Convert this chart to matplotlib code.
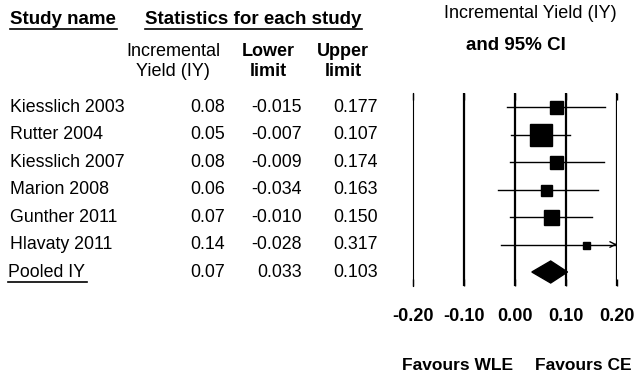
import numpy as np
import matplotlib.pyplot as plt
from matplotlib.patches import Polygon
from matplotlib.lines import Line2D
from matplotlib.transforms import blended_transform_factory

plt.rcParams['font.family'] = ['Liberation Sans', 'DejaVu Sans']

# data
studies = ['Kiesslich 2003', 'Rutter 2004', 'Kiesslich 2007', 'Marion 2008',
           'Gunther 2011', 'Hlavaty 2011']
iy = [0.08, 0.05, 0.08, 0.06, 0.07, 0.14]
lower = [-0.015, -0.007, -0.009, -0.034, -0.010, -0.028]
upper = [0.177, 0.107, 0.174, 0.163, 0.150, 0.317]
weights = [13, 22, 13, 11, 15, 7]  # box side, relative study weight
pooled_name = 'Pooled IY'
pooled_iy = 0.07
pooled_lower = 0.033
pooled_upper = 0.103
ticks = [-0.20, -0.10, 0.00, 0.10, 0.20]
ref_lines = [-0.10, 0.00, 0.10, 0.20]

W, H = 640, 377
fs = 12.8  # text looks a bit stretched in the original
fig = plt.figure(figsize=(W / 100, H / 100), dpi=100)

# forest panel: x -0.2..0.2 spans pixels 413..617, rows 107px + 27.5px steps
ax = fig.add_axes([413 / W, 1 - 285.75 / H, 204 / W, 192.5 / H])
ax.set_xlim(-0.2, 0.2)
ax.set_ylim(6.5, -0.5)
for s in ['top', 'right', 'bottom']:
    ax.spines[s].set_visible(False)
ax.spines['left'].set_linewidth(0.8)

for x in ref_lines:
    ax.axvline(x, color='black', lw=1.6)

ax.set_xticks(ticks)
ax.set_xticklabels(['%.2f' % t for t in ticks], fontweight='bold', fontsize=13)
ax.set_yticks([])
ax.tick_params(axis='x', direction='in', top=True, bottom=True, length=5,
               width=1, pad=16)

for i in range(len(studies)):
    hi = min(upper[i], 0.2)
    ax.plot([lower[i], hi], [i, i], color='black', lw=1)
    if upper[i] > 0.2:
        ax.annotate('', xy=(0.2, i), xytext=(0.19, i),
                    arrowprops=dict(arrowstyle='->', color='black', lw=1,
                                    mutation_scale=10), annotation_clip=False)
    ax.plot(iy[i], i, 's', ms=weights[i] * 0.72, color='black')

py = len(studies)
ax.add_patch(Polygon([(pooled_lower, py), (pooled_iy, py - 0.4),
                      (pooled_upper, py), (pooled_iy, py + 0.4)],
                     closed=True, color='black'))

# table text on the left, rows aligned to the forest panel
tr = blended_transform_factory(fig.transFigure, ax.transData)
names = studies + [pooled_name]
col_iy = iy + [pooled_iy]
col_lo = lower + [pooled_lower]
col_hi = upper + [pooled_upper]
for i in range(len(names)):
    x0 = 8 if names[i] == pooled_name else 10
    ax.text(x0 / W, i, names[i], transform=tr, ha='left', va='center',
            fontsize=fs)
    ax.text(225 / W, i, '%.2f' % col_iy[i], transform=tr, ha='right',
            va='center', fontsize=fs)
    ax.text(302 / W, i, '%.3f' % col_lo[i], transform=tr, ha='right',
            va='center', fontsize=fs)
    ax.text(378 / W, i, '%.3f' % col_hi[i], transform=tr, ha='right',
            va='center', fontsize=fs)

def fy(p):
    return 1 - p / H

fig.text(10 / W, fy(20), 'Study name', ha='left', va='center',
         fontsize=13.5, fontweight='bold')
fig.text(145 / W, fy(20), 'Statistics for each study', ha='left',
         va='center', fontsize=13.5, fontweight='bold')
fig.text(173 / W, fy(51), 'Incremental', ha='center', va='center', fontsize=13)
fig.text(173 / W, fy(71), 'Yield (IY)', ha='center', va='center', fontsize=13)
fig.text(268 / W, fy(51), 'Lower', ha='center', va='center', fontsize=13,
         fontweight='bold')
fig.text(268 / W, fy(71), 'limit', ha='center', va='center', fontsize=13,
         fontweight='bold')
fig.text(343 / W, fy(51), 'Upper', ha='center', va='center', fontsize=13,
         fontweight='bold')
fig.text(343 / W, fy(71), 'limit', ha='center', va='center', fontsize=13,
         fontweight='bold')
fig.text(530 / W, fy(13), 'Incremental Yield (IY)', ha='center', va='center',
         fontsize=13)
fig.text(516 / W, fy(45), 'and 95% CI', ha='center', va='center',
         fontsize=13.5, fontweight='bold')
fig.text(458 / W, fy(365), 'Favours WLE', ha='center', va='center',
         fontsize=12.5, fontweight='bold')
fig.text(583 / W, fy(365), 'Favours CE', ha='center', va='center',
         fontsize=12.5, fontweight='bold')

# underlines
for x0, x1, y in [(10, 117, 29), (145, 362, 29), (8, 87, 282)]:
    fig.add_artist(Line2D([x0 / W, x1 / W], [fy(y), fy(y)], color='black',
                          lw=1.2, transform=fig.transFigure))

fig.savefig('out.png', dpi=100)
